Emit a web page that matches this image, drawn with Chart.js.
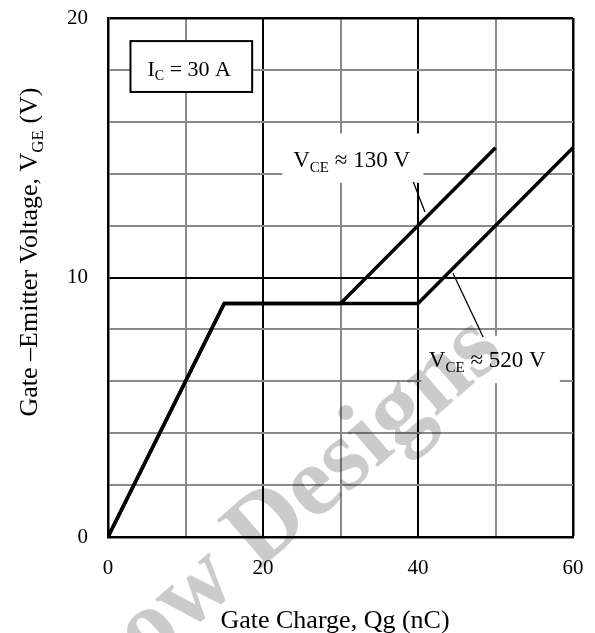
<!DOCTYPE html>
<html>
<head>
<meta charset="utf-8">
<script src="https://cdn.jsdelivr.net/npm/chart.js@4"></script>
<style>
  html, body { margin: 0; padding: 0; background: #fff; }
  canvas { display: block; }
</style>
</head>
<body>
<canvas id="gateChart" width="595" height="633"></canvas>
<script>
// gate charge curves, Ic = 30 A
const qgLow = [0, 15, 30, 50];      // Vce ~ 130 V
const vgeLow = [0, 9, 9, 15];
const qgHigh = [0, 15, 40, 60];     // Vce ~ 520 V
const vgeHigh = [0, 9, 9, 15];
const xTickLabels = [0, 20, 40, 60];
const yTickLabels = [0, 10, 20];

const serif = "'Liberation Serif', 'Times New Roman', serif";
const gray = '#8a8a8a';

function toPoints(xs, ys) {
  return xs.map((x, i) => ({ x: x, y: ys[i] }));
}

// parts: [[text, isSub], ...]
function partsWidth(ctx, parts, size, subSize) {
  let w = 0;
  parts.forEach(p => {
    ctx.font = (p[1] ? subSize : size) + 'px ' + serif;
    w += ctx.measureText(p[0]).width;
  });
  return w;
}

function drawParts(ctx, parts, x, y, size, subSize, drop) {
  parts.forEach(p => {
    ctx.font = (p[1] ? subSize : size) + 'px ' + serif;
    ctx.fillText(p[0], x, p[1] ? y + drop : y);
    x += ctx.measureText(p[0]).width;
  });
}

const labelsPlugin = {
  id: 'labels',
  beforeDatasetsDraw(chart) {
    const ctx = chart.ctx;
    const xs = chart.scales.x, ys = chart.scales.y;
    const px = v => xs.getPixelForValue(v);
    const py = v => ys.getPixelForValue(v);
    ctx.save();
    ctx.fillStyle = '#fff';
    // white backgrounds under the Vce labels
    ctx.fillRect(px(22.5), py(15.55), px(40.7) - px(22.5), py(13.65) - py(15.55));
    ctx.fillRect(px(40.4), py(7.75), px(58.3) - px(40.4), py(5.93) - py(7.75));
    // Ic box
    ctx.fillRect(px(2.9), py(19.11), px(18.6) - px(2.9), py(17.15) - py(19.11));
    ctx.strokeStyle = '#000';
    ctx.lineWidth = 2;
    ctx.strokeRect(px(2.9), py(19.11), px(18.6) - px(2.9), py(17.15) - py(19.11));
    ctx.restore();
  },
  afterDatasetsDraw(chart) {
    const ctx = chart.ctx;
    const xs = chart.scales.x, ys = chart.scales.y;
    const px = v => xs.getPixelForValue(v);
    const py = v => ys.getPixelForValue(v);
    ctx.save();
    ctx.fillStyle = '#000';
    ctx.textAlign = 'left';
    ctx.textBaseline = 'alphabetic';

    drawParts(ctx, [['I', false], ['C', true], [' = 30 A', false]], px(5.1), py(17.76), 22, 14, 4);
    drawParts(ctx, [['V', false], ['CE', true], [' \u2248 130 V', false]], px(23.9), py(14.26), 23, 15, 5);
    drawParts(ctx, [['V', false], ['CE', true], [' \u2248 520 V', false]], px(41.4), py(6.55), 23, 15, 5);

    // leader lines
    ctx.strokeStyle = '#000';
    ctx.lineWidth = 1.3;
    ctx.beginPath();
    ctx.moveTo(px(39.4), py(13.68));
    ctx.lineTo(px(40.9), py(12.52));
    ctx.moveTo(px(44.5), py(10.17));
    ctx.lineTo(px(48.4), py(7.71));
    ctx.stroke();

    // axis titles
    ctx.font = '26px ' + serif;
    ctx.textAlign = 'center';
    ctx.fillText('Gate Charge, Qg (nC)', 335, 628);

    const yParts = [['Gate \u2013Emitter Voltage, V', false], ['GE', true], [' (V)', false]];
    ctx.translate(37, 252);
    ctx.rotate(-Math.PI / 2);
    ctx.textAlign = 'left';
    const w = partsWidth(ctx, yParts, 26, 17);
    drawParts(ctx, yParts, -w / 2, 0, 26, 17, 6);
    ctx.restore();
  },
  afterDraw(chart) {
    // faint diagonal watermark, multiplied so dark marks stay dark
    const ctx = chart.ctx;
    ctx.save();
    ctx.globalCompositeOperation = 'multiply';
    ctx.font = 'bold 100px ' + serif;
    ctx.fillStyle = '#cbcbcb';
    ctx.textBaseline = 'alphabetic';
    ctx.textAlign = 'left';
    ctx.translate(264, 522);
    ctx.rotate(-41 * Math.PI / 180);
    const lead = ctx.measureText('ow ').width + ctx.measureText('D').width / 2;
    ctx.fillText('ow Designs', -lead, 33);
    ctx.restore();
  }
};

new Chart(document.getElementById('gateChart'), {
  type: 'line',
  data: {
    datasets: [{
      label: 'VCE 130 V',
      data: toPoints(qgLow, vgeLow),
      borderColor: '#000',
      borderWidth: 3.5,
      pointRadius: 0,
      fill: false
    }, {
      label: 'VCE 520 V',
      data: toPoints(qgHigh, vgeHigh),
      borderColor: '#000',
      borderWidth: 3.5,
      pointRadius: 0,
      fill: false
    }]
  },
  options: {
    responsive: false,
    animation: false,
    layout: { padding: { left: 0, top: 18, right: 22, bottom: 0 } },
    plugins: { legend: { display: false }, tooltip: { enabled: false } },
    scales: {
      x: {
        type: 'linear',
        min: 0,
        max: 60,
        afterFit: s => { s.height = 96; s.paddingLeft = 0; s.paddingRight = 0; },
        ticks: {
          stepSize: 10,
          padding: 19,
          color: '#000',
          font: { family: serif, size: 21 },
          callback: v => xTickLabels.includes(v) ? String(v) : ''
        },
        grid: {
          drawTicks: false,
          color: c => c.tick.value % 20 === 0 ? '#000' : gray,
          lineWidth: c => c.tick.value === 60 ? 2.5 : 2
        },
        border: { color: '#000', width: 2.5 }
      },
      y: {
        min: 0,
        max: 20,
        afterFit: s => { s.width = 108; s.paddingTop = 0; s.paddingBottom = 0; },
        ticks: {
          stepSize: 2,
          padding: 20,
          color: '#000',
          font: { family: serif, size: 21 },
          callback: v => yTickLabels.includes(v) ? String(v) : ''
        },
        grid: {
          drawTicks: false,
          color: c => c.tick.value % 10 === 0 ? '#000' : gray,
          lineWidth: c => c.tick.value === 20 ? 2.5 : 2
        },
        border: { color: '#000', width: 2.5 }
      }
    }
  },
  plugins: [labelsPlugin]
});
</script>
</body>
</html>
